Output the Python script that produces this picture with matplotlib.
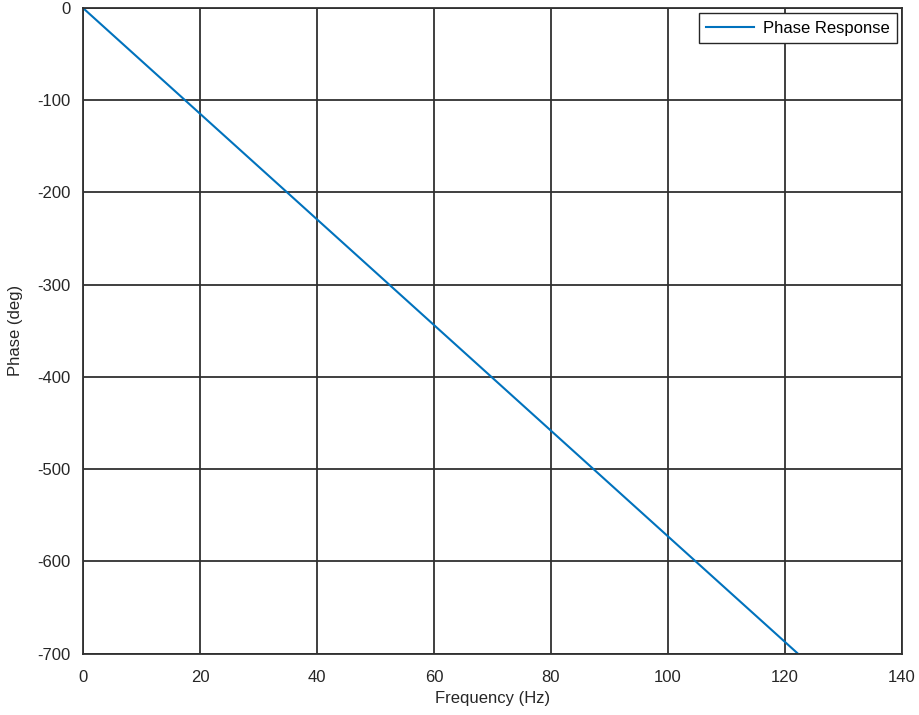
# phase response plot
import matplotlib.pyplot as plt
import numpy as np

plt.rcParams.update({
    "font.family": ["Liberation Sans", "DejaVu Sans"],
    "font.size": 12,
    "axes.unicode_minus": False,
})

# DATA ##########################################

freq_hz = [0, 20, 40, 60, 80, 100, 120, 140]
phase_deg = [0, -114.6, -229.2, -343.8, -458.4, -573.0, -687.5, -802.1]

x_ticks = [0, 20, 40, 60, 80, 100, 120, 140]
y_ticks = [0, -100, -200, -300, -400, -500, -600, -700]

# FIGURE ########################################

fig = plt.figure(figsize=(9.19, 7.15), dpi=100)
ax = fig.add_axes([0.0903, 0.086, 0.8912, 0.9028])

ax.plot(freq_hz, phase_deg, color='#0072BD', linewidth=1.5, label='Phase Response')

ax.set_xlim(0, 140)
ax.set_ylim(-700, 0)
ax.set_xticks(x_ticks)
ax.set_yticks(y_ticks)
ax.tick_params(axis='both', which='both', length=0, colors='#262626')
ax.tick_params(axis='x', pad=12)
ax.tick_params(axis='y', pad=9)

ax.grid(True, color='#303030', linewidth=1.3, linestyle='-')
ax.set_axisbelow(True)
for s in ax.spines.values():
    s.set_color('#303030')
    s.set_linewidth(1.3)

ax.set_xlabel('Frequency (Hz)', color='#262626', labelpad=4)
ax.set_ylabel('Phase (deg)', color='#262626', labelpad=10)

leg = ax.legend(loc='upper right', fancybox=False, framealpha=1,
                edgecolor='#262626', borderaxespad=0.3,
                handlelength=2.9, borderpad=0.45, handletextpad=0.5)
leg.get_frame().set_linewidth(1.0)

plt.savefig('out.png', dpi=100)
